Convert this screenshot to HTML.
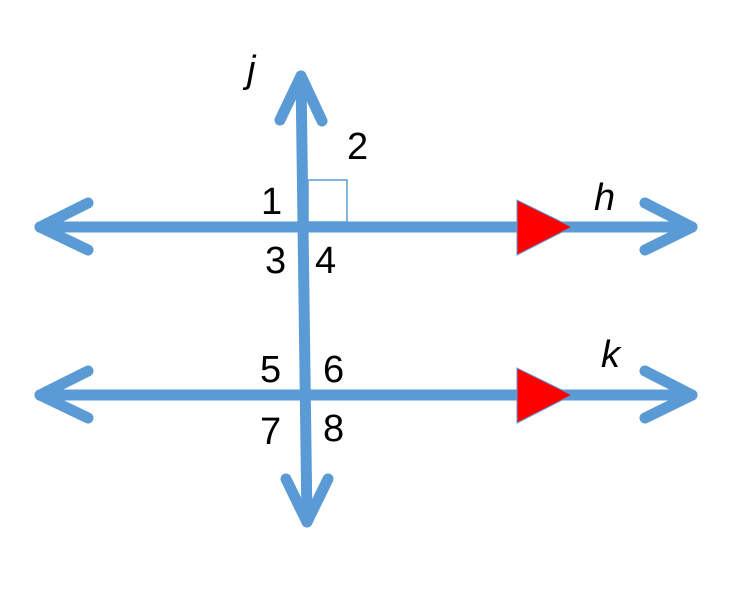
<!DOCTYPE html>
<html><head><style>body{margin:0;background:#fff}svg{display:block}</style></head><body>
<svg width="755" height="597" xmlns="http://www.w3.org/2000/svg">
<g stroke="#5b9bd5" stroke-width="11" fill="none" stroke-linecap="round" stroke-linejoin="round">
<line x1="40" y1="227" x2="692" y2="227"/>
<line x1="40" y1="395" x2="692" y2="395"/>
<line x1="301" y1="76" x2="307" y2="522"/>
<polyline points="88,203 40,227 88,250"/>
<polyline points="645,203 692,227 645,250"/>
<polyline points="88,371 40,395 88,418"/>
<polyline points="645,371 692,395 645,418"/>
<polyline points="280,120 301,76 322,121"/>
<polyline points="286,479 307,522 328,479"/>
</g>
<rect x="308" y="180" width="39" height="42" fill="none" stroke="#5b9bd5" stroke-width="1.5"/>
<polygon points="517,200 517,255 572,227" fill="#f00" stroke="#5b9bd5" stroke-width="1"/>
<polygon points="517,368 517,423 572,395" fill="#f00" stroke="#5b9bd5" stroke-width="1"/>
<g font-family="Liberation Sans, sans-serif" font-size="38" fill="#000">
<text x="247" y="82" font-style="italic">j</text>
<text x="347" y="159">2</text>
<text x="261" y="214">1</text>
<text x="594" y="210" font-style="italic">h</text>
<text x="265" y="273">3</text>
<text x="315" y="273">4</text>
<text x="260" y="382">5</text>
<text x="323" y="382">6</text>
<text x="601" y="367" font-style="italic">k</text>
<text x="260" y="444">7</text>
<text x="323" y="441">8</text>
</g>
</svg>
</body></html>
